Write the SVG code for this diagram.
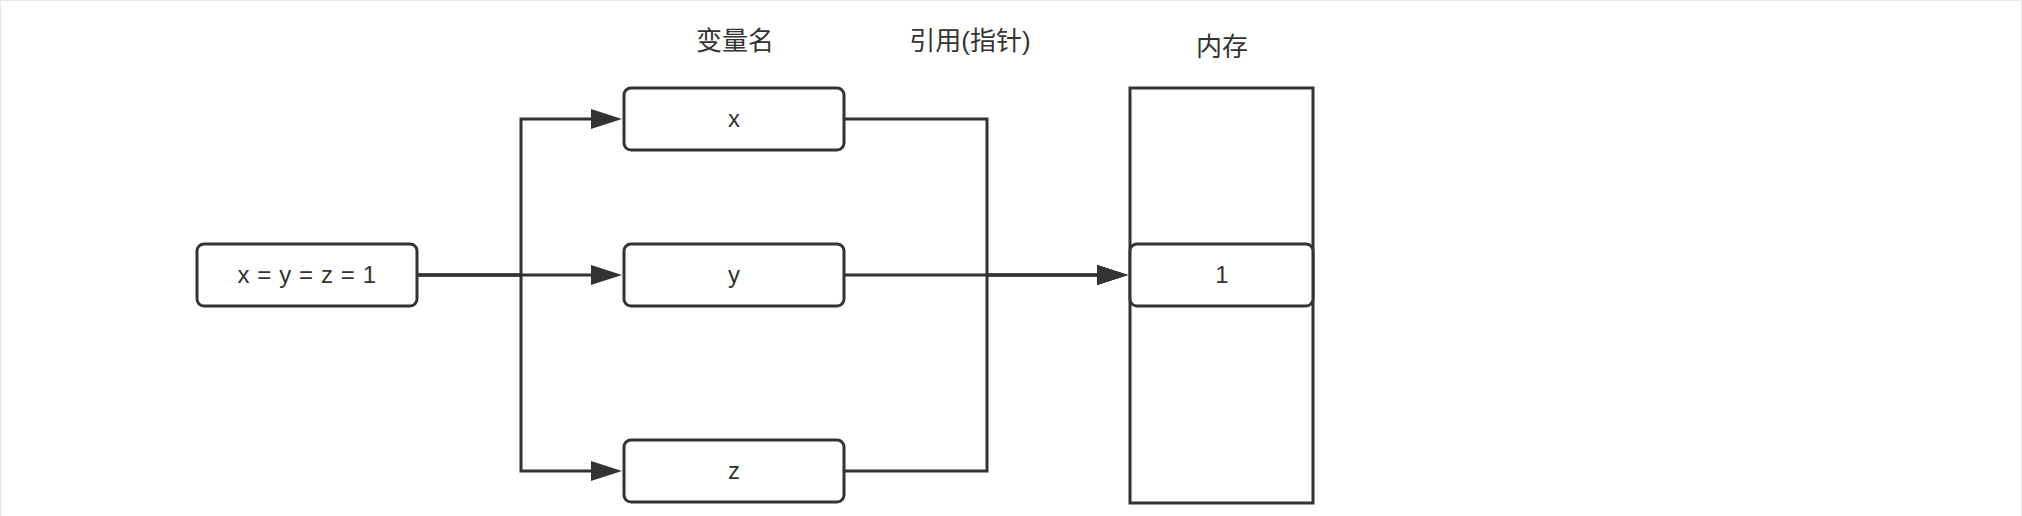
<svg xmlns="http://www.w3.org/2000/svg" width="2022" height="516" viewBox="0 0 2022 516">
  <defs>
    <style>
      .box { fill: #ffffff; stroke: #333333; stroke-width: 3; }
      .mem { fill: #ffffff; stroke: #333333; stroke-width: 3; }
      .lbl { font-family: "Liberation Sans", "Noto Sans CJK SC", sans-serif; font-size: 24px; fill: #333333; text-anchor: middle; }
      .hdr { font-family: "Liberation Sans", "Noto Sans CJK SC", sans-serif; font-size: 26px; fill: #333333; text-anchor: middle; }
      .conn { fill: none; stroke: #333333; stroke-width: 3; marker-end: url(#arr); }
      .frame { stroke: #e8e8e8; stroke-width: 1; fill: none; }
    </style>
    <marker id="arr" markerUnits="userSpaceOnUse" markerWidth="31" markerHeight="20" refX="24" refY="10" orient="auto">
      <path d="M0,0 L31,10 L0,20 Z" fill="#333333"/>
    </marker>
  </defs>
  <rect x="0" y="0" width="2022" height="516" fill="#ffffff"/>
  <path class="frame" d="M0.5,516 V0.5 H2021.5 V516"/>

  <g id="headers">
    <text class="hdr" x="735" y="50">变量名</text>
    <text class="hdr" x="970" y="50">引用(指针)</text>
    <text class="hdr" x="1222" y="56">内存</text>
  </g>

  <g id="connectors">
    <path class="conn" d="M417,275 H521 V119 H615"/>
    <path class="conn" d="M417,275 H615"/>
    <path class="conn" d="M417,275 H521 V471 H615"/>
    <path class="conn" d="M844,119 H987 V275 H1121"/>
    <path class="conn" d="M844,275 H1121"/>
    <path class="conn" d="M844,471 H987 V275 H1121"/>
  </g>

  <g id="assign">
    <rect class="box" x="197" y="244" width="220" height="62" rx="7"/>
    <text class="lbl" x="307" y="283" letter-spacing="0.6">x = y = z = 1</text>
  </g>
  <g id="var-x">
    <rect class="box" x="624" y="88" width="220" height="62" rx="7"/>
    <text class="lbl" x="734" y="127">x</text>
  </g>
  <g id="var-y">
    <rect class="box" x="624" y="244" width="220" height="62" rx="7"/>
    <text class="lbl" x="734" y="283">y</text>
  </g>
  <g id="var-z">
    <rect class="box" x="624" y="440" width="220" height="62" rx="7"/>
    <text class="lbl" x="734" y="479">z</text>
  </g>
  <g id="memory">
    <rect class="mem" x="1130" y="88" width="183" height="415"/>
  </g>
  <g id="mem-cell">
    <rect class="box" x="1130" y="244" width="183" height="62" rx="7"/>
    <text class="lbl" x="1222" y="283">1</text>
  </g>
</svg>
